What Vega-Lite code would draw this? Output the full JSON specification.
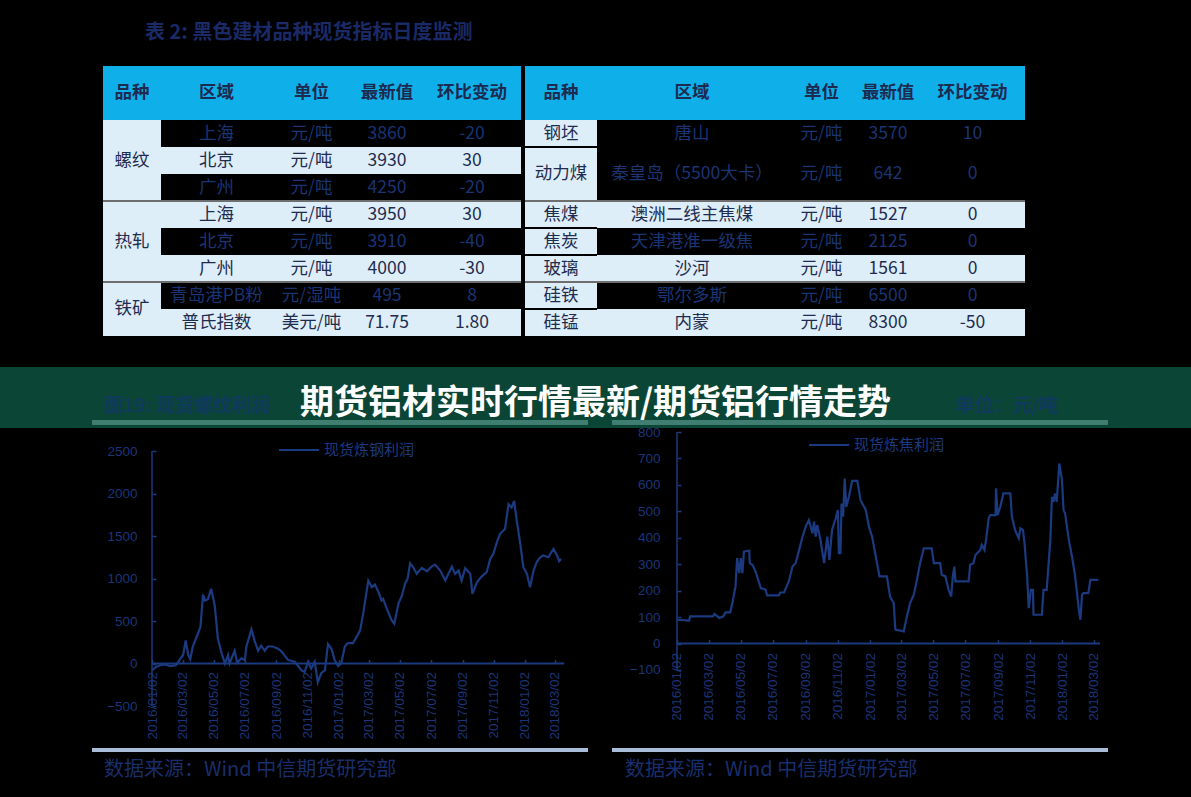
{
  "$schema": "https://vega.github.io/schema/vega-lite/v6.json",
  "background": "#000000",
  "padding": 0,
  "spacing": 0,
  "resolve": {"scale": {"color": "independent"}, "legend": {"color": "independent"}},
  "config": {
    "view": {"stroke": null},
    "concat": {"spacing": 0},
    "axis": {"labelFont": "Liberation Sans", "labelColor": "#1b3578", "labelFontSize": 13.5, "labelOverlap": false, "labelFlush": false, "labelBound": false, "tickColor": "#1b3a80", "tickSize": -4, "tickWidth": 1.5, "title": null, "grid": false}
  },
  "datasets": {
    "tableL": [
      {"序号": 1, "品种": "螺纹", "区域": "上海", "单位": "元/吨", "最新值": "3860", "环比变动": "-20"},
      {"序号": 2, "品种": "螺纹", "区域": "北京", "单位": "元/吨", "最新值": "3930", "环比变动": "30"},
      {"序号": 3, "品种": "螺纹", "区域": "广州", "单位": "元/吨", "最新值": "4250", "环比变动": "-20"},
      {"序号": 4, "品种": "热轧", "区域": "上海", "单位": "元/吨", "最新值": "3950", "环比变动": "30"},
      {"序号": 5, "品种": "热轧", "区域": "北京", "单位": "元/吨", "最新值": "3910", "环比变动": "-40"},
      {"序号": 6, "品种": "热轧", "区域": "广州", "单位": "元/吨", "最新值": "4000", "环比变动": "-30"},
      {"序号": 7, "品种": "铁矿", "区域": "青岛港PB粉", "单位": "元/湿吨", "最新值": "495", "环比变动": "8"},
      {"序号": 8, "品种": "铁矿", "区域": "普氏指数", "单位": "美元/吨", "最新值": "71.75", "环比变动": "1.80"}
    ],
    "tableR": [
      {"序号": 1, "品种": "钢坯", "区域": "唐山", "单位": "元/吨", "最新值": "3570", "环比变动": "10"},
      {"序号": 2, "品种": "动力煤", "区域": "秦皇岛（5500大卡）", "单位": "元/吨", "最新值": "642", "环比变动": "0"},
      {"序号": 4, "品种": "焦煤", "区域": "澳洲二线主焦煤", "单位": "元/吨", "最新值": "1527", "环比变动": "0"},
      {"序号": 5, "品种": "焦炭", "区域": "天津港准一级焦", "单位": "元/吨", "最新值": "2125", "环比变动": "0"},
      {"序号": 6, "品种": "玻璃", "区域": "沙河", "单位": "元/吨", "最新值": "1561", "环比变动": "0"},
      {"序号": 7, "品种": "硅铁", "区域": "鄂尔多斯", "单位": "元/吨", "最新值": "6500", "环比变动": "0"},
      {"序号": 8, "品种": "硅锰", "区域": "内蒙", "单位": "元/吨", "最新值": "8300", "环比变动": "-50"}
    ],
    "steel": [
      {"date": "2016/01/02", "value": -80}, {"date": "2016/01/10", "value": -40}, {"date": "2016/01/18", "value": -20},
      {"date": "2016/01/28", "value": -10}, {"date": "2016/02/06", "value": -30}, {"date": "2016/02/18", "value": -20},
      {"date": "2016/02/26", "value": 50}, {"date": "2016/03/03", "value": 100}, {"date": "2016/03/08", "value": 270},
      {"date": "2016/03/13", "value": 100}, {"date": "2016/03/17", "value": 50}, {"date": "2016/03/22", "value": 200},
      {"date": "2016/04/01", "value": 350}, {"date": "2016/04/06", "value": 430}, {"date": "2016/04/11", "value": 810},
      {"date": "2016/04/15", "value": 740}, {"date": "2016/04/21", "value": 760}, {"date": "2016/04/27", "value": 880},
      {"date": "2016/05/04", "value": 680}, {"date": "2016/05/10", "value": 300}, {"date": "2016/05/17", "value": 130},
      {"date": "2016/05/24", "value": 0}, {"date": "2016/05/30", "value": 100}, {"date": "2016/06/02", "value": 0},
      {"date": "2016/06/12", "value": 150}, {"date": "2016/06/17", "value": 10}, {"date": "2016/06/25", "value": 60},
      {"date": "2016/07/02", "value": 40}, {"date": "2016/07/05", "value": 200}, {"date": "2016/07/15", "value": 400},
      {"date": "2016/07/21", "value": 270}, {"date": "2016/07/28", "value": 150}, {"date": "2016/08/03", "value": 210},
      {"date": "2016/08/10", "value": 150}, {"date": "2016/08/16", "value": 200}, {"date": "2016/08/26", "value": 200},
      {"date": "2016/09/05", "value": 175}, {"date": "2016/09/12", "value": 140}, {"date": "2016/09/25", "value": 40},
      {"date": "2016/10/08", "value": 20}, {"date": "2016/10/21", "value": -80}, {"date": "2016/10/27", "value": -100},
      {"date": "2016/11/03", "value": 20}, {"date": "2016/11/09", "value": -60}, {"date": "2016/11/16", "value": 20},
      {"date": "2016/11/22", "value": -220}, {"date": "2016/11/29", "value": -110}, {"date": "2016/12/06", "value": -80},
      {"date": "2016/12/12", "value": 230}, {"date": "2016/12/19", "value": 170}, {"date": "2016/12/25", "value": 40},
      {"date": "2017/01/01", "value": -30}, {"date": "2017/01/07", "value": 0}, {"date": "2017/01/14", "value": 200},
      {"date": "2017/01/20", "value": 240}, {"date": "2017/01/30", "value": 240}, {"date": "2017/02/04", "value": 290},
      {"date": "2017/02/13", "value": 390}, {"date": "2017/02/19", "value": 586}, {"date": "2017/03/01", "value": 976},
      {"date": "2017/03/08", "value": 898}, {"date": "2017/03/14", "value": 930}, {"date": "2017/03/21", "value": 840},
      {"date": "2017/03/27", "value": 742}, {"date": "2017/03/30", "value": 760}, {"date": "2017/04/09", "value": 605},
      {"date": "2017/04/16", "value": 508}, {"date": "2017/04/21", "value": 469}, {"date": "2017/04/29", "value": 703},
      {"date": "2017/05/06", "value": 800}, {"date": "2017/05/12", "value": 937}, {"date": "2017/05/17", "value": 996},
      {"date": "2017/05/22", "value": 1179}, {"date": "2017/05/28", "value": 1132}, {"date": "2017/06/04", "value": 1055},
      {"date": "2017/06/14", "value": 1125}, {"date": "2017/06/24", "value": 1085}, {"date": "2017/07/03", "value": 1140},
      {"date": "2017/07/10", "value": 1164}, {"date": "2017/07/20", "value": 1093}, {"date": "2017/07/30", "value": 976},
      {"date": "2017/08/05", "value": 1055}, {"date": "2017/08/12", "value": 1140}, {"date": "2017/08/18", "value": 1055},
      {"date": "2017/08/25", "value": 1093}, {"date": "2017/08/31", "value": 976}, {"date": "2017/09/07", "value": 1121},
      {"date": "2017/09/17", "value": 1055}, {"date": "2017/09/21", "value": 820}, {"date": "2017/09/30", "value": 956},
      {"date": "2017/10/09", "value": 1023}, {"date": "2017/10/19", "value": 1074}, {"date": "2017/10/26", "value": 1230},
      {"date": "2017/11/01", "value": 1289}, {"date": "2017/11/08", "value": 1425}, {"date": "2017/11/14", "value": 1523},
      {"date": "2017/11/24", "value": 1582}, {"date": "2017/12/01", "value": 1875}, {"date": "2017/12/07", "value": 1836},
      {"date": "2017/12/12", "value": 1914}, {"date": "2017/12/17", "value": 1680}, {"date": "2017/12/24", "value": 1406},
      {"date": "2017/12/30", "value": 1132}, {"date": "2018/01/06", "value": 1055}, {"date": "2018/01/12", "value": 898},
      {"date": "2018/01/19", "value": 1093}, {"date": "2018/01/25", "value": 1191}, {"date": "2018/02/01", "value": 1250},
      {"date": "2018/02/07", "value": 1270}, {"date": "2018/02/17", "value": 1250}, {"date": "2018/02/27", "value": 1348},
      {"date": "2018/03/06", "value": 1270}, {"date": "2018/03/10", "value": 1203}, {"date": "2018/03/14", "value": 1230}
    ],
    "coke": [
      {"date": "2016/01/02", "value": 90}, {"date": "2016/01/25", "value": 87}, {"date": "2016/01/27", "value": 103},
      {"date": "2016/03/10", "value": 103}, {"date": "2016/03/13", "value": 112}, {"date": "2016/03/22", "value": 97},
      {"date": "2016/03/30", "value": 103}, {"date": "2016/04/03", "value": 118}, {"date": "2016/04/12", "value": 118},
      {"date": "2016/04/16", "value": 153}, {"date": "2016/04/22", "value": 216}, {"date": "2016/04/25", "value": 323},
      {"date": "2016/04/29", "value": 266}, {"date": "2016/05/02", "value": 323}, {"date": "2016/05/05", "value": 266},
      {"date": "2016/05/08", "value": 348}, {"date": "2016/05/18", "value": 351}, {"date": "2016/05/19", "value": 304},
      {"date": "2016/05/24", "value": 298}, {"date": "2016/05/30", "value": 272}, {"date": "2016/06/09", "value": 210},
      {"date": "2016/06/18", "value": 204}, {"date": "2016/06/21", "value": 182}, {"date": "2016/07/13", "value": 182},
      {"date": "2016/07/16", "value": 193}, {"date": "2016/07/23", "value": 193}, {"date": "2016/08/01", "value": 235},
      {"date": "2016/08/08", "value": 291}, {"date": "2016/08/14", "value": 304}, {"date": "2016/08/19", "value": 342},
      {"date": "2016/08/27", "value": 404}, {"date": "2016/09/02", "value": 442}, {"date": "2016/09/08", "value": 467},
      {"date": "2016/09/15", "value": 417}, {"date": "2016/09/18", "value": 461}, {"date": "2016/09/21", "value": 404},
      {"date": "2016/09/24", "value": 448}, {"date": "2016/09/30", "value": 392}, {"date": "2016/10/07", "value": 304},
      {"date": "2016/10/13", "value": 404}, {"date": "2016/10/17", "value": 316}, {"date": "2016/10/22", "value": 430},
      {"date": "2016/10/29", "value": 474}, {"date": "2016/11/02", "value": 505}, {"date": "2016/11/04", "value": 342},
      {"date": "2016/11/07", "value": 342}, {"date": "2016/11/09", "value": 530}, {"date": "2016/11/12", "value": 480},
      {"date": "2016/11/15", "value": 624}, {"date": "2016/11/18", "value": 517}, {"date": "2016/11/23", "value": 555},
      {"date": "2016/11/29", "value": 615}, {"date": "2016/12/09", "value": 615}, {"date": "2016/12/15", "value": 543},
      {"date": "2016/12/25", "value": 505}, {"date": "2016/12/31", "value": 442}, {"date": "2017/01/06", "value": 404},
      {"date": "2017/01/13", "value": 329}, {"date": "2017/01/20", "value": 254}, {"date": "2017/02/03", "value": 254},
      {"date": "2017/02/09", "value": 178}, {"date": "2017/02/16", "value": 153}, {"date": "2017/02/19", "value": 53},
      {"date": "2017/03/07", "value": 46}, {"date": "2017/03/13", "value": 103}, {"date": "2017/03/19", "value": 153},
      {"date": "2017/03/26", "value": 185}, {"date": "2017/04/01", "value": 241}, {"date": "2017/04/07", "value": 304},
      {"date": "2017/04/14", "value": 360}, {"date": "2017/04/29", "value": 360}, {"date": "2017/05/03", "value": 304},
      {"date": "2017/05/15", "value": 304}, {"date": "2017/05/18", "value": 260}, {"date": "2017/05/25", "value": 254},
      {"date": "2017/05/31", "value": 203}, {"date": "2017/06/05", "value": 178}, {"date": "2017/06/08", "value": 254},
      {"date": "2017/06/11", "value": 291}, {"date": "2017/06/13", "value": 235}, {"date": "2017/07/08", "value": 235},
      {"date": "2017/07/11", "value": 298}, {"date": "2017/07/17", "value": 304}, {"date": "2017/07/21", "value": 335},
      {"date": "2017/07/30", "value": 354}, {"date": "2017/08/02", "value": 373}, {"date": "2017/08/07", "value": 354},
      {"date": "2017/08/10", "value": 392}, {"date": "2017/08/15", "value": 474}, {"date": "2017/08/18", "value": 486},
      {"date": "2017/08/28", "value": 486}, {"date": "2017/08/29", "value": 587}, {"date": "2017/09/01", "value": 486},
      {"date": "2017/09/06", "value": 517}, {"date": "2017/09/12", "value": 568}, {"date": "2017/09/25", "value": 568},
      {"date": "2017/09/28", "value": 480}, {"date": "2017/10/04", "value": 430}, {"date": "2017/10/11", "value": 398},
      {"date": "2017/10/14", "value": 436}, {"date": "2017/10/19", "value": 430}, {"date": "2017/10/22", "value": 379},
      {"date": "2017/10/27", "value": 254}, {"date": "2017/10/30", "value": 134}, {"date": "2017/11/03", "value": 203},
      {"date": "2017/11/07", "value": 203}, {"date": "2017/11/08", "value": 109}, {"date": "2017/11/24", "value": 109},
      {"date": "2017/11/27", "value": 203}, {"date": "2017/12/03", "value": 203}, {"date": "2017/12/10", "value": 392},
      {"date": "2017/12/13", "value": 555}, {"date": "2017/12/16", "value": 536}, {"date": "2017/12/19", "value": 568},
      {"date": "2017/12/22", "value": 536}, {"date": "2017/12/27", "value": 681}, {"date": "2018/01/01", "value": 618},
      {"date": "2018/01/04", "value": 505}, {"date": "2018/01/07", "value": 492}, {"date": "2018/01/14", "value": 392},
      {"date": "2018/01/20", "value": 329}, {"date": "2018/01/26", "value": 254}, {"date": "2018/02/02", "value": 128},
      {"date": "2018/02/05", "value": 90}, {"date": "2018/02/08", "value": 185}, {"date": "2018/02/11", "value": 191},
      {"date": "2018/02/20", "value": 191}, {"date": "2018/02/24", "value": 241}, {"date": "2018/03/11", "value": 241}
    ]
  },
  "vconcat": [
    {
      "width": 1191, "height": 66,
      "data": {"values": []}, "mark": "point",
      "title": {"text": "表 2: 黑色建材品种现货指标日度监测", "orient": "top", "anchor": "start", "frame": "group", "offset": -53, "baseline": "middle", "dx": 145, "fontSize": 20, "fontWeight": "bold", "color": "#1a2a66", "font": "Noto Sans CJK SC"}
    },
    {
      "hconcat": [
        {"width": 103, "height": 54, "data": {"values": []}, "mark": "point"},
        {"width": 58, "height": 54, "view": {"fill": "#0fb0ea", "stroke": null}, "data": {"values": [{"h": "品种"}]}, "mark": {"type": "text", "font": "Noto Sans CJK SC", "fontSize": 17.5, "fontWeight": "bold", "color": "#1d2a50"}, "encoding": {"text": {"field": "h"}}},
        {"width": 111, "height": 54, "view": {"fill": "#0fb0ea", "stroke": null}, "data": {"values": [{"h": "区域"}]}, "mark": {"type": "text", "font": "Noto Sans CJK SC", "fontSize": 17.5, "fontWeight": "bold", "color": "#1d2a50"}, "encoding": {"text": {"field": "h"}}},
        {"width": 79, "height": 54, "view": {"fill": "#0fb0ea", "stroke": null}, "data": {"values": [{"h": "单位"}]}, "mark": {"type": "text", "font": "Noto Sans CJK SC", "fontSize": 17.5, "fontWeight": "bold", "color": "#1d2a50"}, "encoding": {"text": {"field": "h"}}},
        {"width": 72, "height": 54, "view": {"fill": "#0fb0ea", "stroke": null}, "data": {"values": [{"h": "最新值"}]}, "mark": {"type": "text", "font": "Noto Sans CJK SC", "fontSize": 17.5, "fontWeight": "bold", "color": "#1d2a50"}, "encoding": {"text": {"field": "h"}}},
        {"width": 98, "height": 54, "view": {"fill": "#0fb0ea", "stroke": null}, "data": {"values": [{"h": "环比变动"}]}, "mark": {"type": "text", "font": "Noto Sans CJK SC", "fontSize": 17.5, "fontWeight": "bold", "color": "#1d2a50"}, "encoding": {"text": {"field": "h"}}},
        {"width": 4, "height": 54, "data": {"values": []}, "mark": "point"},
        {"width": 72, "height": 54, "view": {"fill": "#0fb0ea", "stroke": null}, "data": {"values": [{"h": "品种"}]}, "mark": {"type": "text", "font": "Noto Sans CJK SC", "fontSize": 17.5, "fontWeight": "bold", "color": "#1d2a50"}, "encoding": {"text": {"field": "h"}}},
        {"width": 190, "height": 54, "view": {"fill": "#0fb0ea", "stroke": null}, "data": {"values": [{"h": "区域"}]}, "mark": {"type": "text", "font": "Noto Sans CJK SC", "fontSize": 17.5, "fontWeight": "bold", "color": "#1d2a50"}, "encoding": {"text": {"field": "h"}}},
        {"width": 69, "height": 54, "view": {"fill": "#0fb0ea", "stroke": null}, "data": {"values": [{"h": "单位"}]}, "mark": {"type": "text", "font": "Noto Sans CJK SC", "fontSize": 17.5, "fontWeight": "bold", "color": "#1d2a50"}, "encoding": {"text": {"field": "h"}}},
        {"width": 64, "height": 54, "view": {"fill": "#0fb0ea", "stroke": null}, "data": {"values": [{"h": "最新值"}]}, "mark": {"type": "text", "font": "Noto Sans CJK SC", "fontSize": 17.5, "fontWeight": "bold", "color": "#1d2a50"}, "encoding": {"text": {"field": "h"}}},
        {"width": 105, "height": 54, "view": {"fill": "#0fb0ea", "stroke": null}, "data": {"values": [{"h": "环比变动"}]}, "mark": {"type": "text", "font": "Noto Sans CJK SC", "fontSize": 17.5, "fontWeight": "bold", "color": "#1d2a50"}, "encoding": {"text": {"field": "h"}}},
        {"width": 166, "height": 54, "data": {"values": []}, "mark": "point"}
      ],
      "bounds": "flush"
    },
    {
      "hconcat": [
        {"width": 103, "height": 216, "data": {"values": []}, "mark": "point"},
        {"width": 58, "height": 216, "view": {"fill": "#ddeef9", "stroke": null}, "data": {"name": "tableL"},
         "encoding": {"y": {"field": "序号", "type": "ordinal", "scale": {"domain": [1,2,3,4,5,6,7,8], "paddingInner": 0, "paddingOuter": 0}, "axis": null}},
         "layer": [
           {"transform": [{"filter": "datum['序号'] == 4 || datum['序号'] == 7"}], "mark": {"type": "rule", "color": "#6e6e6e", "strokeWidth": 2}, "encoding": {"y": {"field": "序号", "type": "ordinal", "bandPosition": 0, "axis": null}}},
           {"transform": [{"filter": "datum['序号'] == 2 || datum['序号'] == 5"}], "mark": {"type": "text", "font": "Noto Sans CJK SC", "fontSize": 17.5, "color": "#1f2c4f"}, "encoding": {"text": {"field": "品种"}}},
           {"transform": [{"filter": "datum['序号'] == 7"}], "mark": {"type": "text", "font": "Noto Sans CJK SC", "fontSize": 17.5, "color": "#1f2c4f"}, "encoding": {"text": {"field": "品种"}, "y": {"field": "序号", "type": "ordinal", "bandPosition": 1, "axis": null}}}
         ]},
        {"width": 111, "height": 216, "data": {"name": "tableL"},
         "encoding": {"y": {"field": "序号", "type": "ordinal", "scale": {"domain": [1,2,3,4,5,6,7,8], "paddingInner": 0, "paddingOuter": 0}, "axis": null}},
         "layer": [
           {"transform": [{"filter": "datum['序号'] % 2 == 0"}], "mark": {"type": "rect", "color": "#ddeef9"}},
           {"transform": [{"filter": "datum['序号'] == 4 || datum['序号'] == 7"}], "mark": {"type": "rule", "color": "#6e6e6e", "strokeWidth": 2}, "encoding": {"y": {"field": "序号", "type": "ordinal", "bandPosition": 0, "axis": null}}},
           {"mark": {"type": "text", "font": "Noto Sans CJK SC", "fontSize": 17.5}, "encoding": {"text": {"field": "区域"}, "color": {"condition": {"test": "datum['序号'] % 2 == 0", "value": "#1f2c4f"}, "value": "#1b3474"}}}
         ]},
        {"width": 79, "height": 216, "data": {"name": "tableL"},
         "encoding": {"y": {"field": "序号", "type": "ordinal", "scale": {"domain": [1,2,3,4,5,6,7,8], "paddingInner": 0, "paddingOuter": 0}, "axis": null}},
         "layer": [
           {"transform": [{"filter": "datum['序号'] % 2 == 0"}], "mark": {"type": "rect", "color": "#ddeef9"}},
           {"transform": [{"filter": "datum['序号'] == 4 || datum['序号'] == 7"}], "mark": {"type": "rule", "color": "#6e6e6e", "strokeWidth": 2}, "encoding": {"y": {"field": "序号", "type": "ordinal", "bandPosition": 0, "axis": null}}},
           {"mark": {"type": "text", "font": "Noto Sans CJK SC", "fontSize": 17.5}, "encoding": {"text": {"field": "单位"}, "color": {"condition": {"test": "datum['序号'] % 2 == 0", "value": "#1f2c4f"}, "value": "#1b3474"}}}
         ]},
        {"width": 72, "height": 216, "data": {"name": "tableL"},
         "encoding": {"y": {"field": "序号", "type": "ordinal", "scale": {"domain": [1,2,3,4,5,6,7,8], "paddingInner": 0, "paddingOuter": 0}, "axis": null}},
         "layer": [
           {"transform": [{"filter": "datum['序号'] % 2 == 0"}], "mark": {"type": "rect", "color": "#ddeef9"}},
           {"transform": [{"filter": "datum['序号'] == 4 || datum['序号'] == 7"}], "mark": {"type": "rule", "color": "#6e6e6e", "strokeWidth": 2}, "encoding": {"y": {"field": "序号", "type": "ordinal", "bandPosition": 0, "axis": null}}},
           {"mark": {"type": "text", "font": "Noto Sans CJK SC", "fontSize": 17.5}, "encoding": {"text": {"field": "最新值"}, "color": {"condition": {"test": "datum['序号'] % 2 == 0", "value": "#1f2c4f"}, "value": "#1b3474"}}}
         ]},
        {"width": 98, "height": 216, "data": {"name": "tableL"},
         "encoding": {"y": {"field": "序号", "type": "ordinal", "scale": {"domain": [1,2,3,4,5,6,7,8], "paddingInner": 0, "paddingOuter": 0}, "axis": null}},
         "layer": [
           {"transform": [{"filter": "datum['序号'] % 2 == 0"}], "mark": {"type": "rect", "color": "#ddeef9"}},
           {"transform": [{"filter": "datum['序号'] == 4 || datum['序号'] == 7"}], "mark": {"type": "rule", "color": "#6e6e6e", "strokeWidth": 2}, "encoding": {"y": {"field": "序号", "type": "ordinal", "bandPosition": 0, "axis": null}}},
           {"mark": {"type": "text", "font": "Noto Sans CJK SC", "fontSize": 17.5}, "encoding": {"text": {"field": "环比变动"}, "color": {"condition": {"test": "datum['序号'] % 2 == 0", "value": "#1f2c4f"}, "value": "#1b3474"}}}
         ]},
        {"width": 4, "height": 216, "data": {"values": []}, "mark": "point"},
        {"width": 72, "height": 216, "view": {"fill": "#ddeef9", "stroke": null}, "data": {"name": "tableR"},
         "encoding": {"y": {"field": "序号", "type": "ordinal", "scale": {"domain": [1,2,3,4,5,6,7,8], "paddingInner": 0, "paddingOuter": 0}, "axis": null}},
         "layer": [
           {"transform": [{"filter": "datum['序号'] == 2 || datum['序号'] == 5 || datum['序号'] == 6 || datum['序号'] == 8"}], "mark": {"type": "rule", "color": "#000000", "strokeWidth": 2}, "encoding": {"y": {"field": "序号", "type": "ordinal", "bandPosition": 0, "axis": null}}},
           {"transform": [{"filter": "datum['序号'] == 4 || datum['序号'] == 7"}], "mark": {"type": "rule", "color": "#6e6e6e", "strokeWidth": 2}, "encoding": {"y": {"field": "序号", "type": "ordinal", "bandPosition": 0, "axis": null}}},
           {"transform": [{"filter": "datum['序号'] != 2"}], "mark": {"type": "text", "font": "Noto Sans CJK SC", "fontSize": 17.5, "color": "#1f2c4f"}, "encoding": {"text": {"field": "品种"}}},
           {"transform": [{"filter": "datum['序号'] == 2"}], "mark": {"type": "text", "font": "Noto Sans CJK SC", "fontSize": 17.5, "color": "#1f2c4f"}, "encoding": {"text": {"field": "品种"}, "y": {"field": "序号", "type": "ordinal", "bandPosition": 1, "axis": null}}}
         ]},
        {"width": 190, "height": 216, "data": {"name": "tableR"},
         "encoding": {"y": {"field": "序号", "type": "ordinal", "scale": {"domain": [1,2,3,4,5,6,7,8], "paddingInner": 0, "paddingOuter": 0}, "axis": null}},
         "layer": [
           {"transform": [{"filter": "datum['序号'] == 4 || datum['序号'] == 6 || datum['序号'] == 8"}], "mark": {"type": "rect", "color": "#ddeef9"}},
           {"transform": [{"filter": "datum['序号'] == 4 || datum['序号'] == 7"}], "mark": {"type": "rule", "color": "#6e6e6e", "strokeWidth": 2}, "encoding": {"y": {"field": "序号", "type": "ordinal", "bandPosition": 0, "axis": null}}},
           {"transform": [{"filter": "datum['序号'] != 2"}], "mark": {"type": "text", "font": "Noto Sans CJK SC", "fontSize": 17.5}, "encoding": {"text": {"field": "区域"}, "color": {"condition": {"test": "datum['序号'] == 4 || datum['序号'] == 6 || datum['序号'] == 8", "value": "#1f2c4f"}, "value": "#1b3474"}}},
           {"transform": [{"filter": "datum['序号'] == 2"}], "mark": {"type": "text", "font": "Noto Sans CJK SC", "fontSize": 17.5, "color": "#1b3474"}, "encoding": {"text": {"field": "区域"}, "y": {"field": "序号", "type": "ordinal", "bandPosition": 1, "axis": null}}}
         ]},
        {"width": 69, "height": 216, "data": {"name": "tableR"},
         "encoding": {"y": {"field": "序号", "type": "ordinal", "scale": {"domain": [1,2,3,4,5,6,7,8], "paddingInner": 0, "paddingOuter": 0}, "axis": null}},
         "layer": [
           {"transform": [{"filter": "datum['序号'] == 4 || datum['序号'] == 6 || datum['序号'] == 8"}], "mark": {"type": "rect", "color": "#ddeef9"}},
           {"transform": [{"filter": "datum['序号'] == 4 || datum['序号'] == 7"}], "mark": {"type": "rule", "color": "#6e6e6e", "strokeWidth": 2}, "encoding": {"y": {"field": "序号", "type": "ordinal", "bandPosition": 0, "axis": null}}},
           {"transform": [{"filter": "datum['序号'] != 2"}], "mark": {"type": "text", "font": "Noto Sans CJK SC", "fontSize": 17.5}, "encoding": {"text": {"field": "单位"}, "color": {"condition": {"test": "datum['序号'] == 4 || datum['序号'] == 6 || datum['序号'] == 8", "value": "#1f2c4f"}, "value": "#1b3474"}}},
           {"transform": [{"filter": "datum['序号'] == 2"}], "mark": {"type": "text", "font": "Noto Sans CJK SC", "fontSize": 17.5, "color": "#1b3474"}, "encoding": {"text": {"field": "单位"}, "y": {"field": "序号", "type": "ordinal", "bandPosition": 1, "axis": null}}}
         ]},
        {"width": 64, "height": 216, "data": {"name": "tableR"},
         "encoding": {"y": {"field": "序号", "type": "ordinal", "scale": {"domain": [1,2,3,4,5,6,7,8], "paddingInner": 0, "paddingOuter": 0}, "axis": null}},
         "layer": [
           {"transform": [{"filter": "datum['序号'] == 4 || datum['序号'] == 6 || datum['序号'] == 8"}], "mark": {"type": "rect", "color": "#ddeef9"}},
           {"transform": [{"filter": "datum['序号'] == 4 || datum['序号'] == 7"}], "mark": {"type": "rule", "color": "#6e6e6e", "strokeWidth": 2}, "encoding": {"y": {"field": "序号", "type": "ordinal", "bandPosition": 0, "axis": null}}},
           {"transform": [{"filter": "datum['序号'] != 2"}], "mark": {"type": "text", "font": "Noto Sans CJK SC", "fontSize": 17.5}, "encoding": {"text": {"field": "最新值"}, "color": {"condition": {"test": "datum['序号'] == 4 || datum['序号'] == 6 || datum['序号'] == 8", "value": "#1f2c4f"}, "value": "#1b3474"}}},
           {"transform": [{"filter": "datum['序号'] == 2"}], "mark": {"type": "text", "font": "Noto Sans CJK SC", "fontSize": 17.5, "color": "#1b3474"}, "encoding": {"text": {"field": "最新值"}, "y": {"field": "序号", "type": "ordinal", "bandPosition": 1, "axis": null}}}
         ]},
        {"width": 105, "height": 216, "data": {"name": "tableR"},
         "encoding": {"y": {"field": "序号", "type": "ordinal", "scale": {"domain": [1,2,3,4,5,6,7,8], "paddingInner": 0, "paddingOuter": 0}, "axis": null}},
         "layer": [
           {"transform": [{"filter": "datum['序号'] == 4 || datum['序号'] == 6 || datum['序号'] == 8"}], "mark": {"type": "rect", "color": "#ddeef9"}},
           {"transform": [{"filter": "datum['序号'] == 4 || datum['序号'] == 7"}], "mark": {"type": "rule", "color": "#6e6e6e", "strokeWidth": 2}, "encoding": {"y": {"field": "序号", "type": "ordinal", "bandPosition": 0, "axis": null}}},
           {"transform": [{"filter": "datum['序号'] != 2"}], "mark": {"type": "text", "font": "Noto Sans CJK SC", "fontSize": 17.5}, "encoding": {"text": {"field": "环比变动"}, "color": {"condition": {"test": "datum['序号'] == 4 || datum['序号'] == 6 || datum['序号'] == 8", "value": "#1f2c4f"}, "value": "#1b3474"}}},
           {"transform": [{"filter": "datum['序号'] == 2"}], "mark": {"type": "text", "font": "Noto Sans CJK SC", "fontSize": 17.5, "color": "#1b3474"}, "encoding": {"text": {"field": "环比变动"}, "y": {"field": "序号", "type": "ordinal", "bandPosition": 1, "axis": null}}}
         ]},
        {"width": 166, "height": 216, "data": {"values": []}, "mark": "point"}
      ],
      "bounds": "flush"
    },
    {"width": 1191, "height": 31, "data": {"values": []}, "mark": "point"},
    {
      "title": {"text": "期货铝材实时行情最新/期货铝行情走势", "orient": "top", "anchor": "middle", "frame": "bounds", "offset": -71, "baseline": "middle", "fontSize": 34, "fontWeight": "bold", "color": "#ffffff", "font": "Noto Sans CJK SC", "zindex": 1},
      "resolve": {"scale": {"color": "independent"}, "legend": {"color": "independent"}},
      "hconcat": [
        {"vconcat": [
          {"width": 92, "height": 61, "view": {"fill": "#0b4535", "stroke": null}, "data": {"values": []}, "mark": "point"},
          {"width": 92, "height": 369, "data": {"values": []}, "mark": "point"}
        ], "bounds": "flush"},
        {"vconcat": [
          {"width": 496, "height": 53, "view": {"fill": "#0b4535", "stroke": null}, "data": {"values": []}, "mark": "point",
           "title": {"text": "图19: 现货螺纹利润", "orient": "top", "anchor": "start", "frame": "group", "offset": -58, "baseline": "middle", "dx": 12, "fontSize": 19, "fontWeight": "bold", "color": "#0f3a5e", "font": "Noto Sans CJK SC"}},
          {"width": 496, "height": 5, "view": {"fill": "#3f7e70", "stroke": null}, "data": {"values": []}, "mark": "point"},
          {"width": 496, "height": 3, "view": {"fill": "#0b4535", "stroke": null}, "data": {"values": []}, "mark": "point"},
          {
            "width": 496, "height": 320,
            "layer": [
              {
                "data": {"name": "steel"},
                "mark": {"type": "line", "strokeWidth": 2.2},
                "encoding": {
                  "x": {"field": "date", "type": "temporal",
                        "scale": {"domain": [{"year": 2015, "month": 9, "date": 6, "hours": 9}, {"year": 2018, "month": 5, "date": 5, "hours": 17}]},
                        "axis": {"values": [{"year": 2016, "month": 1, "date": 2}, {"year": 2016, "month": 3, "date": 2}, {"year": 2016, "month": 5, "date": 2}, {"year": 2016, "month": 7, "date": 2}, {"year": 2016, "month": 9, "date": 2}, {"year": 2016, "month": 11, "date": 2}, {"year": 2017, "month": 1, "date": 2}, {"year": 2017, "month": 3, "date": 2}, {"year": 2017, "month": 5, "date": 2}, {"year": 2017, "month": 7, "date": 2}, {"year": 2017, "month": 9, "date": 2}, {"year": 2017, "month": 11, "date": 2}, {"year": 2018, "month": 1, "date": 2}, {"year": 2018, "month": 3, "date": 2}],
                                 "format": "%Y/%m/%d", "labelAngle": 270, "offset": -84.5, "title": null, "grid": false, "domain": false, "labelPadding": 12, "labelOverlap": false, "labelFlush": false, "labelBound": false}},
                  "y": {"field": "value", "type": "quantitative",
                        "scale": {"domain": [-994.1, 2770.6], "nice": false, "zero": false},
                        "axis": {"values": [-500, 0, 500, 1000, 1500, 2000, 2500], "format": "d", "title": null, "grid": false, "domain": false, "offset": -60, "labelPadding": 19, "labelOverlap": false, "labelFlush": false, "labelBound": false}},
                  "color": {"datum": "现货炼钢利润", "type": "nominal", "scale": {"range": ["#1b3a80"]},
                            "legend": {"orient": "none", "legendX": 186, "legendY": 1, "title": null, "symbolType": "stroke", "symbolSize": 1600, "symbolStrokeWidth": 2, "labelFontSize": 15, "labelFont": "Noto Sans CJK SC", "labelColor": "#1b3a80", "padding": 0, "labelOffset": 4}}
                }
              },
              {
                "data": {"values": [{}]},
                "mark": {"type": "rule", "color": "#1b3a80", "strokeWidth": 2},
                "encoding": {
                  "x": {"datum": {"year": 2016, "month": 1, "date": 2}, "type": "temporal",
                        "axis": {"values": [{"year": 2016, "month": 1, "date": 2}, {"year": 2016, "month": 3, "date": 2}, {"year": 2016, "month": 5, "date": 2}, {"year": 2016, "month": 7, "date": 2}, {"year": 2016, "month": 9, "date": 2}, {"year": 2016, "month": 11, "date": 2}, {"year": 2017, "month": 1, "date": 2}, {"year": 2017, "month": 3, "date": 2}, {"year": 2017, "month": 5, "date": 2}, {"year": 2017, "month": 7, "date": 2}, {"year": 2017, "month": 9, "date": 2}, {"year": 2017, "month": 11, "date": 2}, {"year": 2018, "month": 1, "date": 2}, {"year": 2018, "month": 3, "date": 2}],
                                 "format": "%Y/%m/%d", "labelAngle": 270, "offset": -84.5, "title": null, "grid": false, "domain": false, "labelPadding": 12, "labelOverlap": false, "labelFlush": false, "labelBound": false}},
                  "x2": {"datum": {"year": 2018, "month": 3, "date": 20}},
                  "y": {"datum": 0, "type": "quantitative",
                        "axis": {"values": [-500, 0, 500, 1000, 1500, 2000, 2500], "format": "d", "title": null, "grid": false, "domain": false, "offset": -60, "labelPadding": 19, "labelOverlap": false, "labelFlush": false, "labelBound": false}}
                }
              },
              {
                "data": {"values": [{}]},
                "mark": {"type": "rule", "color": "#1b3a80", "strokeWidth": 1.5},
                "encoding": {
                  "x": {"datum": {"year": 2016, "month": 1, "date": 2}, "type": "temporal",
                        "axis": {"values": [{"year": 2016, "month": 1, "date": 2}, {"year": 2016, "month": 3, "date": 2}, {"year": 2016, "month": 5, "date": 2}, {"year": 2016, "month": 7, "date": 2}, {"year": 2016, "month": 9, "date": 2}, {"year": 2016, "month": 11, "date": 2}, {"year": 2017, "month": 1, "date": 2}, {"year": 2017, "month": 3, "date": 2}, {"year": 2017, "month": 5, "date": 2}, {"year": 2017, "month": 7, "date": 2}, {"year": 2017, "month": 9, "date": 2}, {"year": 2017, "month": 11, "date": 2}, {"year": 2018, "month": 1, "date": 2}, {"year": 2018, "month": 3, "date": 2}],
                                 "format": "%Y/%m/%d", "labelAngle": 270, "offset": -84.5, "title": null, "grid": false, "domain": false, "labelPadding": 12, "labelOverlap": false, "labelFlush": false, "labelBound": false}},
                  "y": {"datum": -500, "type": "quantitative",
                        "axis": {"values": [-500, 0, 500, 1000, 1500, 2000, 2500], "format": "d", "title": null, "grid": false, "domain": false, "offset": -60, "labelPadding": 19, "labelOverlap": false, "labelFlush": false, "labelBound": false}},
                  "y2": {"datum": 2500}
                }
              }
            ]
          },
          {"width": 496, "height": 4, "view": {"fill": "#a9bcd8", "stroke": null}, "data": {"values": []}, "mark": "point"},
          {"width": 496, "height": 45, "data": {"values": []}, "mark": "point",
           "title": {"text": "数据来源：Wind  中信期货研究部", "orient": "top", "anchor": "start", "frame": "group", "offset": -38, "baseline": "middle", "dx": 12, "fontSize": 20, "fontWeight": "normal", "color": "#1a2e6b", "font": "Noto Sans CJK SC"}}
        ], "bounds": "flush", "resolve": {"scale": {"color": "independent"}, "legend": {"color": "independent"}}},
        {"vconcat": [
          {"width": 24, "height": 61, "view": {"fill": "#0b4535", "stroke": null}, "data": {"values": []}, "mark": "point"},
          {"width": 24, "height": 369, "data": {"values": []}, "mark": "point"}
        ], "bounds": "flush"},
        {"vconcat": [
          {"width": 496, "height": 53, "view": {"fill": "#0b4535", "stroke": null}, "data": {"values": []}, "mark": "point",
           "title": {"text": "单位：元/吨", "orient": "top", "anchor": "end", "frame": "group", "offset": -58, "baseline": "middle", "dx": -50, "fontSize": 19, "fontWeight": "bold", "color": "#0f3a5e", "font": "Noto Sans CJK SC"}},
          {"width": 496, "height": 5, "view": {"fill": "#3f7e70", "stroke": null}, "data": {"values": []}, "mark": "point"},
          {"width": 496, "height": 3, "view": {"fill": "#0b4535", "stroke": null}, "data": {"values": []}, "mark": "point"},
          {
            "width": 496, "height": 320,
            "layer": [
              {
                "data": {"name": "coke"},
                "mark": {"type": "line", "strokeWidth": 2.2},
                "encoding": {
                  "x": {"field": "date", "type": "temporal",
                        "scale": {"domain": [{"year": 2015, "month": 8, "date": 31, "hours": 18}, {"year": 2018, "month": 3, "date": 29, "hours": 7}]},
                        "axis": {"values": [{"year": 2016, "month": 1, "date": 2}, {"year": 2016, "month": 3, "date": 2}, {"year": 2016, "month": 5, "date": 2}, {"year": 2016, "month": 7, "date": 2}, {"year": 2016, "month": 9, "date": 2}, {"year": 2016, "month": 11, "date": 2}, {"year": 2017, "month": 1, "date": 2}, {"year": 2017, "month": 3, "date": 2}, {"year": 2017, "month": 5, "date": 2}, {"year": 2017, "month": 7, "date": 2}, {"year": 2017, "month": 9, "date": 2}, {"year": 2017, "month": 11, "date": 2}, {"year": 2018, "month": 1, "date": 2}, {"year": 2018, "month": 3, "date": 2}],
                                 "format": "%Y/%m/%d", "labelAngle": 270, "offset": -104.4, "title": null, "grid": false, "domain": false, "labelPadding": 13, "labelOverlap": false, "labelFlush": false, "labelBound": false}},
                  "y": {"field": "value", "type": "quantitative",
                        "scale": {"domain": [-394.96, 815.13], "nice": false, "zero": false},
                        "axis": {"values": [-100, 0, 100, 200, 300, 400, 500, 600, 700, 800], "format": "d", "title": null, "grid": false, "domain": false, "offset": -65, "labelPadding": 21, "labelOverlap": false, "labelFlush": false, "labelBound": false}},
                  "color": {"datum": "现货炼焦利润", "type": "nominal", "scale": {"range": ["#1b3a80"]},
                            "legend": {"orient": "none", "legendX": 196, "legendY": -4, "title": null, "symbolType": "stroke", "symbolSize": 1600, "symbolStrokeWidth": 2, "labelFontSize": 15, "labelFont": "Noto Sans CJK SC", "labelColor": "#1b3a80", "padding": 0, "labelOffset": 4}}
                }
              },
              {
                "data": {"values": [{}]},
                "mark": {"type": "rule", "color": "#1b3a80", "strokeWidth": 2},
                "encoding": {
                  "x": {"datum": {"year": 2016, "month": 1, "date": 2}, "type": "temporal",
                        "axis": {"values": [{"year": 2016, "month": 1, "date": 2}, {"year": 2016, "month": 3, "date": 2}, {"year": 2016, "month": 5, "date": 2}, {"year": 2016, "month": 7, "date": 2}, {"year": 2016, "month": 9, "date": 2}, {"year": 2016, "month": 11, "date": 2}, {"year": 2017, "month": 1, "date": 2}, {"year": 2017, "month": 3, "date": 2}, {"year": 2017, "month": 5, "date": 2}, {"year": 2017, "month": 7, "date": 2}, {"year": 2017, "month": 9, "date": 2}, {"year": 2017, "month": 11, "date": 2}, {"year": 2018, "month": 1, "date": 2}, {"year": 2018, "month": 3, "date": 2}],
                                 "format": "%Y/%m/%d", "labelAngle": 270, "offset": -104.4, "title": null, "grid": false, "domain": false, "labelPadding": 13, "labelOverlap": false, "labelFlush": false, "labelBound": false}},
                  "x2": {"datum": {"year": 2018, "month": 3, "date": 14}},
                  "y": {"datum": 0, "type": "quantitative",
                        "axis": {"values": [-100, 0, 100, 200, 300, 400, 500, 600, 700, 800], "format": "d", "title": null, "grid": false, "domain": false, "offset": -65, "labelPadding": 21, "labelOverlap": false, "labelFlush": false, "labelBound": false}}
                }
              },
              {
                "data": {"values": [{}]},
                "mark": {"type": "rule", "color": "#1b3a80", "strokeWidth": 1.5},
                "encoding": {
                  "x": {"datum": {"year": 2016, "month": 1, "date": 2}, "type": "temporal",
                        "axis": {"values": [{"year": 2016, "month": 1, "date": 2}, {"year": 2016, "month": 3, "date": 2}, {"year": 2016, "month": 5, "date": 2}, {"year": 2016, "month": 7, "date": 2}, {"year": 2016, "month": 9, "date": 2}, {"year": 2016, "month": 11, "date": 2}, {"year": 2017, "month": 1, "date": 2}, {"year": 2017, "month": 3, "date": 2}, {"year": 2017, "month": 5, "date": 2}, {"year": 2017, "month": 7, "date": 2}, {"year": 2017, "month": 9, "date": 2}, {"year": 2017, "month": 11, "date": 2}, {"year": 2018, "month": 1, "date": 2}, {"year": 2018, "month": 3, "date": 2}],
                                 "format": "%Y/%m/%d", "labelAngle": 270, "offset": -104.4, "title": null, "grid": false, "domain": false, "labelPadding": 13, "labelOverlap": false, "labelFlush": false, "labelBound": false}},
                  "y": {"datum": -100, "type": "quantitative",
                        "axis": {"values": [-100, 0, 100, 200, 300, 400, 500, 600, 700, 800], "format": "d", "title": null, "grid": false, "domain": false, "offset": -65, "labelPadding": 21, "labelOverlap": false, "labelFlush": false, "labelBound": false}},
                  "y2": {"datum": 800}
                }
              }
            ]
          },
          {"width": 496, "height": 4, "view": {"fill": "#a9bcd8", "stroke": null}, "data": {"values": []}, "mark": "point"},
          {"width": 496, "height": 45, "data": {"values": []}, "mark": "point",
           "title": {"text": "数据来源：Wind  中信期货研究部", "orient": "top", "anchor": "start", "frame": "group", "offset": -38, "baseline": "middle", "dx": 13, "fontSize": 20, "fontWeight": "normal", "color": "#1a2e6b", "font": "Noto Sans CJK SC"}}
        ], "bounds": "flush", "resolve": {"scale": {"color": "independent"}, "legend": {"color": "independent"}}},
        {"vconcat": [
          {"width": 83, "height": 61, "view": {"fill": "#0b4535", "stroke": null}, "data": {"values": []}, "mark": "point"},
          {"width": 83, "height": 369, "data": {"values": []}, "mark": "point"}
        ], "bounds": "flush"}
      ]
    }
  ]
}
